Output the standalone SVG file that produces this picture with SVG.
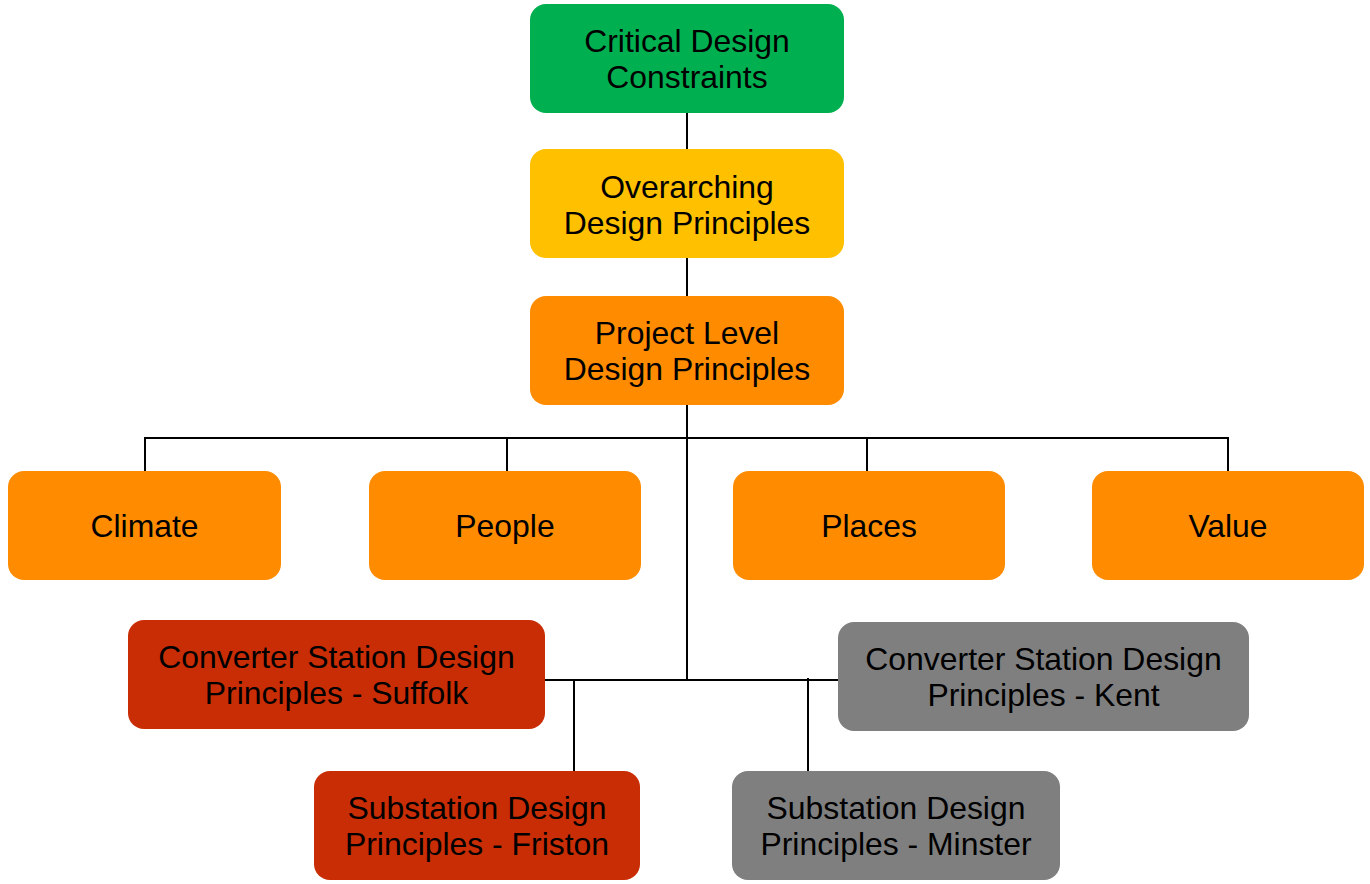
<svg xmlns="http://www.w3.org/2000/svg" width="1370" height="884" viewBox="0 0 1370 884">
<style>
.n{stroke:none}
.t{font-family:"Liberation Sans",Arial,sans-serif;font-size:31.9px;fill:#000;text-anchor:middle}
.c{stroke:#000;stroke-width:2;fill:none}
</style>
<rect width="1370" height="884" fill="#fff"/>
<g id="connectors">
<path class="c" d="M687 113V149M687 258V296M687 405V681"/>
<path class="c" d="M145 438H1228M145 437V471M507 437V471M867 437V471M1228 437V471"/>
<path class="c" d="M545 680H838M574 680V771M808 678V771"/>
</g>
<g id="critical"><rect class="n" x="530" y="4" width="314" height="109" rx="16" fill="#00B050"/><text class="t" x="687" y="52">Critical Design</text><text class="t" x="687" y="88">Constraints</text></g>
<g id="overarching"><rect class="n" x="530" y="149" width="314" height="109" rx="16" fill="#FFC000"/><text class="t" x="687" y="197.5">Overarching</text><text class="t" x="687" y="233.5">Design Principles</text></g>
<g id="project"><rect class="n" x="530" y="296" width="314" height="109" rx="16" fill="#FF8C00"/><text class="t" x="687" y="344">Project Level</text><text class="t" x="687" y="380">Design Principles</text></g>
<g id="climate"><rect class="n" x="8" y="471" width="273" height="109" rx="16" fill="#FF8C00"/><text class="t" x="144.5" y="537">Climate</text></g>
<g id="people"><rect class="n" x="369" y="471" width="272" height="109" rx="16" fill="#FF8C00"/><text class="t" x="505" y="537">People</text></g>
<g id="places"><rect class="n" x="733" y="471" width="272" height="109" rx="16" fill="#FF8C00"/><text class="t" x="869" y="537">Places</text></g>
<g id="value"><rect class="n" x="1092" y="471" width="272" height="109" rx="16" fill="#FF8C00"/><text class="t" x="1228" y="537">Value</text></g>
<g id="conv-suffolk"><rect class="n" x="128" y="620" width="417" height="109" rx="16" fill="#C92D05"/><text class="t" x="336.5" y="668">Converter Station Design</text><text class="t" x="336.5" y="704">Principles - Suffolk</text></g>
<g id="conv-kent"><rect class="n" x="838" y="622" width="411" height="109" rx="16" fill="#7F7F7F"/><text class="t" x="1043.5" y="670">Converter Station Design</text><text class="t" x="1043.5" y="706">Principles - Kent</text></g>
<g id="sub-friston"><rect class="n" x="314" y="771" width="326" height="109" rx="16" fill="#C92D05"/><text class="t" x="477" y="819">Substation Design</text><text class="t" x="477" y="855">Principles - Friston</text></g>
<g id="sub-minster"><rect class="n" x="732" y="771" width="328" height="109" rx="16" fill="#7F7F7F"/><text class="t" x="896" y="819">Substation Design</text><text class="t" x="896" y="855">Principles - Minster</text></g>
</svg>
